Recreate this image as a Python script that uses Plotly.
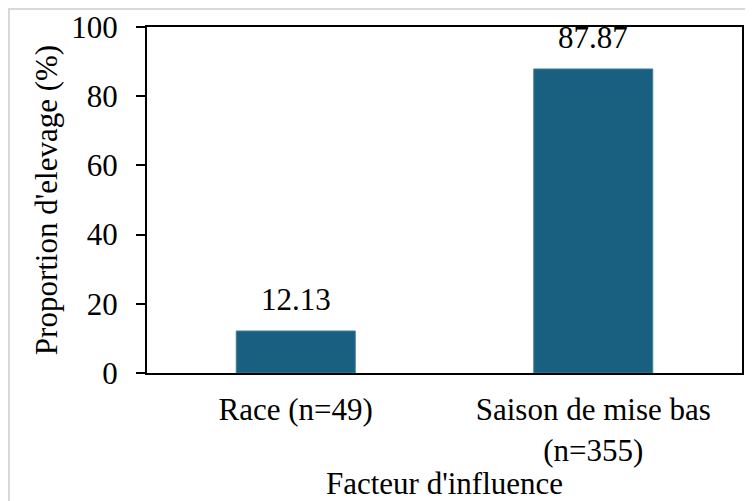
import plotly.graph_objects as go

categories = ["Race (n=49)", "Saison de mise bas<br>(n=355)"]
values = [12.13, 87.87]
value_labels = ["12.13", "87.87"]
y_ticks = [0, 20, 40, 60, 80, 100]

FONT = "Liberation Serif, Times New Roman, serif"
FS = 31
BAR = "#185f80"

# page body has an 8px margin, so the figure is drawn 8px in from the corner
W, H = 745, 493
L, R, T = 139, 11, 19
B = H - (373 - 8)
pw, ph = W - L - R, H - T - B

fig = go.Figure()
fig.add_trace(go.Bar(
    x=categories, y=values,
    marker=dict(color=BAR, line=dict(color="#3f7f9c", width=1)),
    width=0.4,
))

for c, v, t in zip(categories, values, value_labels):
    fig.add_annotation(x=c, y=v, text=t, showarrow=False, yanchor="bottom",
                       yshift=12, font=dict(family=FONT, size=FS, color="black"))

fig.add_shape(type="rect", xref="paper", yref="paper",
              x0=(1 - L) / pw, x1=(W + 20 - L) / pw,
              y0=(T + ph - (H + 20)) / ph, y1=(T + ph - 1) / ph,
              line=dict(color="#d9d9d9", width=2), fillcolor="rgba(0,0,0,0)", layer="below")

fig.update_layout(
    width=W, height=H,
    margin=dict(l=L, r=R, t=T, b=B, autoexpand=False),
    plot_bgcolor="white", paper_bgcolor="white",
    showlegend=False,
    font=dict(family=FONT, size=FS, color="black"),
    xaxis=dict(
        showline=True, linecolor="black", linewidth=2, mirror=True,
        ticks="", tickfont=dict(family=FONT, size=FS),
        ticklabelstandoff=8,
        title=dict(text="Facteur d'influence", font=dict(family=FONT, size=FS), standoff=10),
    ),
    yaxis=dict(
        range=[0, 100], tickvals=y_ticks, showgrid=False, zeroline=False,
        showline=True, linecolor="black", linewidth=2, mirror=True,
        ticks="outside", ticklen=9, tickwidth=2, tickcolor="black",
        ticklabelstandoff=12,
        tickfont=dict(family=FONT, size=FS),
        title=dict(text="Proportion d'elevage (%)", font=dict(family=FONT, size=FS), standoff=4),
    ),
)

fig.write_html("out.html")
